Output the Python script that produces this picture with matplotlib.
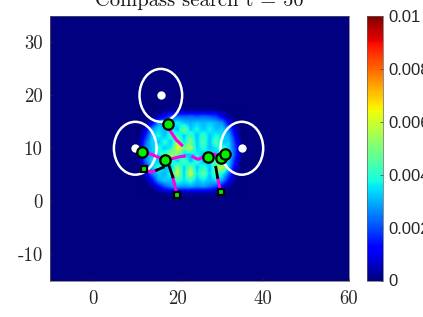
import matplotlib
matplotlib.use('Agg')
import matplotlib.pyplot as plt
from matplotlib.patches import Ellipse
import numpy as np

# density grid, units of 1e-3
grid_x = [11, 12.5, 14, 15.5, 17, 18.5, 20, 21.5, 23, 24.5, 26, 27.5, 29, 30.5, 32, 33.5, 35]
grid_y = [17.2, 16, 14.8, 13.6, 12.4, 11.2, 10, 8.8, 7.6, 6.4, 5.2, 4, 2.8, 1.6]
density = [
    [0, 0, 0, 0, 0.1, 0.2, 0.2, 0.2, 0.2, 0.2, 0.2, 0.2, 0.1, 0, 0, 0, 0],
    [0, 0, 0, 0.4, 1.2, 2.1, 2.3, 2.2, 2.3, 2.1, 2.3, 2.1, 1.9, 1.0, 0.2, 0, 0],
    [0, 0, 1.0, 2.8, 3.1, 3.3, 3.7, 3.2, 3.0, 3.3, 3.1, 3.3, 3.0, 2.7, 1.1, 0.1, 0],
    [0, 0.7, 2.8, 3.4, 3.1, 3.7, 3.1, 5.0, 3.2, 3.8, 3.1, 3.7, 3.1, 3.3, 2.4, 0.6, 0],
    [0, 1.5, 3.3, 3.8, 3.1, 4.2, 4.2, 3.2, 4.4, 3.1, 4.3, 3.2, 3.8, 3.4, 3.0, 1.1, 0],
    [0.1, 2.2, 3.4, 3.1, 4.0, 3.2, 5.6, 3.5, 5.0, 3.2, 4.4, 3.1, 4.6, 3.2, 3.3, 1.6, 0],
    [0.2, 2.6, 3.2, 4.0, 3.2, 3.7, 6.4, 4.8, 5.6, 3.3, 4.0, 3.2, 3.5, 4.2, 3.4, 1.9, 0.1],
    [0.2, 2.8, 3.1, 3.5, 4.4, 5.6, 4.8, 3.3, 3.2, 3.8, 3.1, 3.7, 3.3, 3.3, 3.7, 1.8, 0.1],
    [0.1, 2.3, 3.6, 3.2, 3.1, 4.0, 3.2, 4.6, 3.1, 4.2, 3.0, 3.5, 4.4, 3.5, 3.3, 1.4, 0],
    [0, 1.6, 3.2, 4.0, 3.3, 3.2, 5.2, 3.2, 5.0, 3.2, 4.2, 3.1, 5.0, 6.0, 3.0, 0.9, 0],
    [0, 0.7, 2.5, 3.3, 3.0, 4.0, 5.8, 3.3, 6.0, 3.5, 4.8, 3.2, 4.6, 3.7, 2.2, 0.3, 0],
    [0, 0.1, 1.2, 2.9, 3.4, 3.1, 4.2, 3.5, 4.2, 3.2, 3.6, 3.1, 3.6, 2.9, 1.2, 0.1, 0],
    [0, 0, 0.2, 1.2, 2.1, 2.7, 2.9, 2.8, 2.9, 2.6, 2.8, 2.5, 2.0, 1.1, 0.2, 0, 0],
    [0, 0, 0, 0, 0.2, 0.3, 0.3, 0.3, 0.3, 0.3, 0.3, 0.3, 0.2, 0, 0, 0, 0],
]

# sources and agents
source_x = [16, 10, 35]
source_y = [20, 10, 10]
source_r = [5, 5, 5]
agent_x = [17.6, 11.6, 17.05, 27.05, 30.2, 31.0]
agent_y = [14.5, 9.3, 7.7, 8.3, 8.2, 8.9]
start_x = [12, 19.8, 30]
start_y = [6, 1.1, 1.8]

# trails
pink_trails = [
    ([17.6, 18.1, 19.6, 20.9], [14.5, 13.4, 11.6, 10.6]),
    ([11.6, 14, 17.05], [9.3, 8.8, 7.7]),
    ([17.05, 20.5, 21.5], [7.7, 8.4, 8.5]),
    ([23.5, 24.7, 25.9, 27.05], [8.4, 7.9, 8.3, 8.3]),
    ([27.05, 28.5, 30.2], [8.3, 8.9, 8.2]),
    ([12, 13.5, 14.6, 15], [6, 5.5, 5.7, 5.85]),
    ([19.8, 18.8], [1.1, 4.6]),
    ([30, 29.3], [1.8, 4.5]),
]
black_trails = [
    ([15, 16.6], [5.85, 6.4]),
    ([18.8, 18], [4.6, 6.5]),
    ([29.3, 28.9], [4.5, 6.4]),
]

x_ticks = [0, 20, 40, 60]
y_ticks = [-10, 0, 10, 20, 30]
y_labels = ['-10', '0', '10', '20', '30']
cbar_ticks = [0, 0.002, 0.004, 0.006, 0.008, 0.01]
cbar_labels = ['0', '0.002', '0.004', '0.006', '0.008', '0.01']

fig = plt.figure(figsize=(4.23, 3.17), dpi=100)
w, h = 423.0, 317.0
ax = fig.add_axes([49.5/w, 1-280.5/h, 299/w, 264.5/h])
cax = fig.add_axes([366.5/w, 1-280.5/h, 16/w, 264.5/h])

navy = plt.get_cmap('jet')(0.0)
ax.set_facecolor(navy)
dx = (grid_x[1]-grid_x[0])/2
dy = (grid_y[0]-grid_y[1])/2
im = ax.imshow(np.array(density)*1e-3, cmap='jet', vmin=0, vmax=0.01, aspect='auto',
               interpolation='bilinear', origin='upper',
               extent=[grid_x[0]-dx, grid_x[-1]+dx, grid_y[-1]-dy, grid_y[0]+dy])

for sx, sy, r in zip(source_x, source_y, source_r):
    ax.add_patch(Ellipse((sx, sy), 2*r, 2*r, fill=False, ec='white', lw=1.8))
ax.plot(source_x, source_y, 'o', color='white', ms=6, mec='none')

for tx, ty in pink_trails:
    ax.plot(tx, ty, '-', color='#ff00e0', lw=2.2)
for tx, ty in black_trails:
    ax.plot(tx, ty, '-', color='black', lw=2.0)

ax.plot(start_x, start_y, 's', color='#00f000', mec='black', mew=1.6, ms=5)
ax.plot(agent_x, agent_y, 'o', color='#00f000', mec='black', mew=1.6, ms=7.5)

ax.set_xlim(-10.1, 60)
ax.set_ylim(-15, 35)
ax.set_xticks(x_ticks)
ax.set_xticklabels([str(t) for t in x_ticks])
ax.set_yticks(y_ticks)
ax.set_yticklabels(y_labels)
ax.tick_params(direction='in', length=2.5, width=0.5, color='#262626', pad=5, labelcolor='#262626')
for label in ax.get_xticklabels() + ax.get_yticklabels():
    label.set_family('cmr10')
    label.set_fontsize(13.5)
ax.tick_params(axis='x', pad=7)
for s in ax.spines.values():
    s.set_linewidth(0.5)
    s.set_color('#606060')

ax.set_title('Compass search t = 50', family='cmr10', fontsize=14.8, color='#1a1a1a', pad=7)

cb = fig.colorbar(im, cax=cax, ticks=cbar_ticks)
cb.ax.set_yticklabels(cbar_labels, family='Liberation Sans', fontsize=12, color='#262626')
cb.ax.tick_params(direction='in', length=2, width=0.5, color='#404040', pad=4)
cb.outline.set_linewidth(0.5)
cb.outline.set_edgecolor('#606060')

fig.savefig('out.png', dpi=100)
